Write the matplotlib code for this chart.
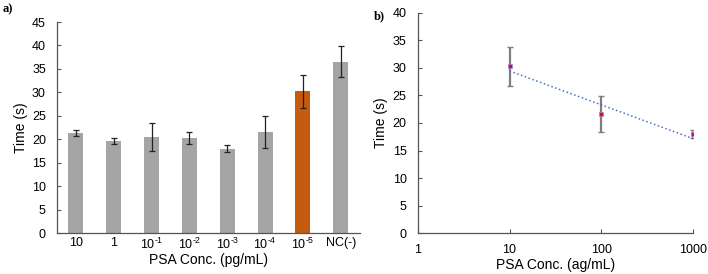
import matplotlib.pyplot as plt
import numpy as np

plt.rcParams['font.family'] = ['Liberation Sans', 'DejaVu Sans']
plt.rcParams['mathtext.fontset'] = 'custom'
plt.rcParams['mathtext.rm'] = 'Liberation Sans'
plt.rcParams['mathtext.it'] = 'Liberation Sans'
plt.rcParams['mathtext.bf'] = 'Liberation Sans:bold'

# panel a data
cats = ['10', '1', '$\\mathregular{10^{\\text{-1}}}$', '$\\mathregular{10^{\\text{-2}}}$',
        '$\\mathregular{10^{\\text{-3}}}$', '$\\mathregular{10^{\\text{-4}}}$',
        '$\\mathregular{10^{\\text{-5}}}$', 'NC(-)']
times_a = [21.3, 19.6, 20.5, 20.2, 18.0, 21.6, 30.2, 36.5]
err_a = [0.7, 0.6, 3.0, 1.3, 0.8, 3.4, 3.5, 3.3]
highlight = 6

# panel b data
conc_b = [10, 100, 1000]
times_b = [30.3, 21.6, 18.0]
err_b = [3.5, 3.3, 0.8]

gray = '#a5a5a5'
orange = '#c55a11'
spine_col = '#555555'

fig = plt.figure(figsize=(7.08, 2.74), dpi=100)

# ---- panel a
ax1 = fig.add_axes([0.0805, 0.1496, 0.4275, 0.7701])
x = np.arange(len(cats))
colors = [orange if i == highlight else gray for i in range(len(cats))]
ax1.bar(x, times_a, width=0.4, color=colors, yerr=err_a,
        error_kw=dict(ecolor='#222222', elinewidth=0.9, capsize=2, capthick=0.9))
ax1.set_xlim(-0.5, len(cats) - 0.5)
ax1.set_ylim(0, 45)
ax1.set_yticks(np.arange(0, 46, 5))
ax1.set_xticks(x)
ax1.set_xticklabels(cats)
ax1.set_ylabel('Time (s)', fontsize=10, labelpad=3)
ax1.set_xlabel('PSA Conc. (pg/mL)', fontsize=10)
ax1.xaxis.set_label_coords(0.5, -0.095)
ax1.tick_params(axis='y', direction='in', length=3, labelsize=9, color=spine_col, pad=8)
ax1.tick_params(axis='x', length=0, labelsize=9, pad=3)
for s in ['top', 'right']:
    ax1.spines[s].set_visible(False)
for s in ['left', 'bottom']:
    ax1.spines[s].set_color(spine_col)
    ax1.spines[s].set_linewidth(0.9)
fig.text(0.004, 0.955, 'a)', fontsize=9, fontweight='bold', family='Liberation Serif')

# ---- panel b
ax2 = fig.add_axes([0.590, 0.1496, 0.389, 0.803])
ax2.set_xscale('log')
ax2.errorbar(conc_b, times_b, yerr=err_b, fmt='none', ecolor='#7f7f7f',
             elinewidth=1.6, capsize=2, capthick=1.0, zorder=2)
ax2.plot(conc_b, times_b, 's', color='red', markeredgecolor='#8a8aff',
         markeredgewidth=0.5, markersize=3.5, zorder=4)
coef = np.polyfit(np.log10(conc_b), times_b, 1)
xl = np.array([10, 1000])
ax2.plot(xl, np.polyval(coef, np.log10(xl)), ':', color='#4472c4', lw=1.1, zorder=3)
ax2.set_xlim(1, 1000)
ax2.set_ylim(0, 40)
ax2.set_yticks(np.arange(0, 41, 5))
ax2.set_xticks([1, 10, 100, 1000])
ax2.set_xticklabels(['1', '10', '100', '1000'])
ax2.minorticks_off()
ax2.set_ylabel('Time (s)', fontsize=10, labelpad=3)
ax2.set_xlabel('PSA Conc. (ag/mL)', fontsize=10)
ax2.xaxis.set_label_coords(0.5, -0.112)
ax2.tick_params(axis='both', direction='in', length=3, labelsize=9, color=spine_col)
ax2.tick_params(axis='y', pad=8)
ax2.tick_params(axis='x', pad=8)
for s in ['top', 'right']:
    ax2.spines[s].set_visible(False)
for s in ['left', 'bottom']:
    ax2.spines[s].set_color(spine_col)
    ax2.spines[s].set_linewidth(0.9)
fig.text(0.528, 0.93, 'b)', fontsize=9, fontweight='bold', family='Liberation Serif')

fig.savefig('out.png', dpi=100)
